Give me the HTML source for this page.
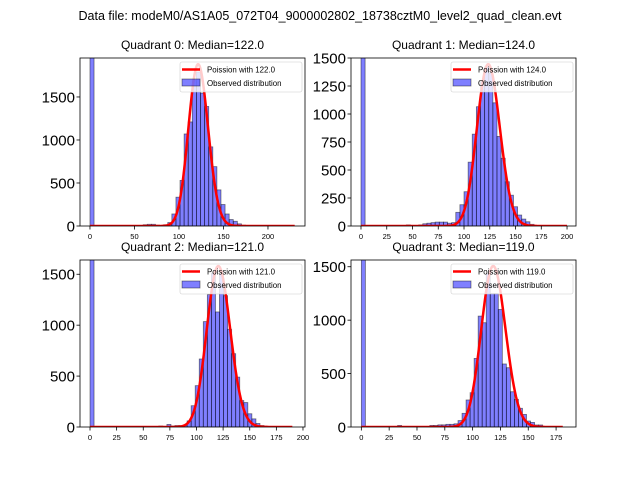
<!DOCTYPE html>
<html><head><meta charset="utf-8"><style>
body{margin:0;background:#fff;}
svg{display:block;font-family:"Liberation Sans","DejaVu Sans",sans-serif;}
</style></head><body>
<svg id="fig" width="640" height="480" viewBox="0 0 640 480">
<text x="320" y="20" text-anchor="middle" font-size="12.5">Data file: modeM0/AS1A05_072T04_9000002802_18738cztM0_level2_quad_clean.evt</text>
</svg>
<script>
// ---- data ----
const quadNames = ["Quadrant 0: Median=122.0","Quadrant 1: Median=124.0","Quadrant 2: Median=121.0","Quadrant 3: Median=119.0"];
const medians = [122, 124, 121, 119];
const binWidths = [4.6, 4.0, 3.8, 3.62];
const curvePeaks = [1880, 1444, 1580, 1506];
const counts0 = [5000,0,0,0,0,0,0,0,0,0,0,0,0,15,20,20,10,5,15,40,140,335,530,1070,1210,1690,1790,1545,1390,920,690,420,250,140,75,55,25,10,5,0,0,0,0,0,0,0,0,0,0,0];
const counts1 = [5000,0,0,0,0,0,0,0,0,0,0,10,5,5,10,20,25,30,35,35,35,25,30,122,190,306,570,820,1065,1290,1420,1365,1100,800,605,395,275,172,98,62,38,15,5,0,0,0,0,0,0,0];
const counts2 = [5000,0,0,0,0,0,0,0,0,0,0,0,0,0,0,0,0,10,5,25,10,15,15,20,60,209,406,668,1035,1300,1510,1130,1500,1290,960,720,490,260,240,130,80,35,15,8,0,0,0,0,0,0];
const counts3 = [5000,0,0,0,0,0,0,0,0,15,0,0,0,5,0,5,5,15,15,20,20,25,25,30,60,128,253,321,642,1038,976,1437,1250,1250,1100,590,555,330,259,175,118,56,43,19,19,5,0,0,0,0];
const allCounts = [counts0, counts1, counts2, counts3];
const xTicks0 = [0,50,100,150,200];
const xTicks1 = [0,25,50,75,100,125,150,175,200];
const xTicks2 = [0,25,50,75,100,125,150,175,200];
const xTicks3 = [0,25,50,75,100,125,150,175];
const yTicks0 = [0,500,1000,1500];
const yTicks1 = [0,250,500,750,1000,1250,1500];
const yTicks2 = [0,500,1000,1500];
const yTicks3 = [0,500,1000,1500];
const allXTicks = [xTicks0,xTicks1,xTicks2,xTicks3];
const allYTicks = [yTicks0,yTicks1,yTicks2,yTicks3];
const xLims = [[-11.2,241.6],[-9.7,208.7],[-9.4,201.9],[-9.3,192.9]];
const yMaxes = [1953,1500,1640,1563];
// ---- layout ----
const boxes = [[80,58,305,226],[351,58,576,226],[80,260,305,427],[351,260,576,427]];
const NS="http://www.w3.org/2000/svg";
const svg=document.getElementById('fig');
function mk(tag,attrs,parent){const e=document.createElementNS(NS,tag);for(const k in attrs)e.setAttribute(k,attrs[k]);(parent||svg).appendChild(e);return e;}
function lgamma(z){
  if(z<7){let p=1;while(z<7){p*=z;z+=1;}return lgamma(z)-Math.log(p);}
  return (z-0.5)*Math.log(z)-z+0.5*Math.log(2*Math.PI)+1/(12*z)-1/(360*z*z*z);
}
function pmf(k,mu){return Math.exp(k*Math.log(mu)-mu-lgamma(k+1));}
for(let q=0;q<4;q++){
  const [L,T,R,B]=boxes[q];
  const g=mk('g',{});
  
  
  const xs=v=>L+(v-xLims[q][0])/(xLims[q][1]-xLims[q][0])*(R-L);
  const ys=v=>B-v/yMaxes[q]*(B-T);
  const cid='clip'+q;
  const cp=mk('clipPath',{id:cid},g);mk('rect',{x:L,y:T,width:R-L,height:B-T},cp);
  const plot=mk('g',{'clip-path':'url(#'+cid+')'},g);
  const bw=binWidths[q];
  allCounts[q].forEach((c,i)=>{
    if(c<=0)return;
    const x0=xs(i*bw),x1=xs((i+1)*bw);
    const r=mk('rect',{x:x0,y:ys(c),width:x1-x0,height:B-ys(c),fill:'rgba(0,0,255,0.5)',stroke:'rgba(0,0,0,0.5)','stroke-width':0.8},plot);
    
    
  });
  const mu=medians[q],A=curvePeaks[q]/pmf(Math.round(mu),mu);
  let d='';const xmax=50*bw;
  for(let k=0;k<=Math.round(xmax);k++){d+=(k?'L':'M')+xs(k).toFixed(2)+' '+ys(A*pmf(k,mu)).toFixed(2);}
  const p=mk('path',{d:d,fill:'none',stroke:'#ff0000','stroke-width':2.5,'stroke-linejoin':'round'},plot);
  
  
  const fr=mk('rect',{x:L,y:T,width:R-L,height:B-T,fill:'none',stroke:'#000','stroke-width':0.8},g);
  
  
  allXTicks[q].forEach(t=>{
    const x=xs(t);mk('line',{x1:x,y1:B,x2:x,y2:B+3.5,stroke:'#000','stroke-width':0.8},g);
    const tx=mk('text',{x:x,y:B+13,'text-anchor':'middle','font-size':7.5},g);tx.textContent=t;
    
    
  });
  allYTicks[q].forEach(t=>{
    const y=ys(t);mk('line',{x1:L-3.5,y1:y,x2:L,y2:y,stroke:'#000','stroke-width':0.8},g);
    const tx=mk('text',{x:L-5,y:y+5.3,'text-anchor':'end','font-size':15},g);tx.textContent=t;
    
    
  });
  const ti=mk('text',{x:(L+R)/2,y:T-9,'text-anchor':'middle','font-size':12},g);ti.textContent=quadNames[q];
  
  
  const lg=mk('g',{},g);
  
  
  mk('rect',{x:R-125,y:T+4,width:122,height:30,fill:'rgba(255,255,255,0.8)',stroke:'#ccc','stroke-width':0.6,rx:2},lg);
  mk('line',{x1:R-123,y1:T+11.5,x2:R-105,y2:T+11.5,stroke:'#ff0000','stroke-width':2.5},lg);
  const t1=mk('text',{x:R-98,y:T+14.5,'font-size':7.9},lg);t1.textContent='Poission with '+mu.toFixed(1);
  
  
  mk('rect',{x:R-123,y:T+21,width:18,height:7,fill:'rgba(0,0,255,0.5)',stroke:'rgba(0,0,0,0.5)','stroke-width':0.8},lg);
  const t2=mk('text',{x:R-98,y:T+28,'font-size':7.9},lg);t2.textContent='Observed distribution';
  
  
}
</script>
</body></html>
